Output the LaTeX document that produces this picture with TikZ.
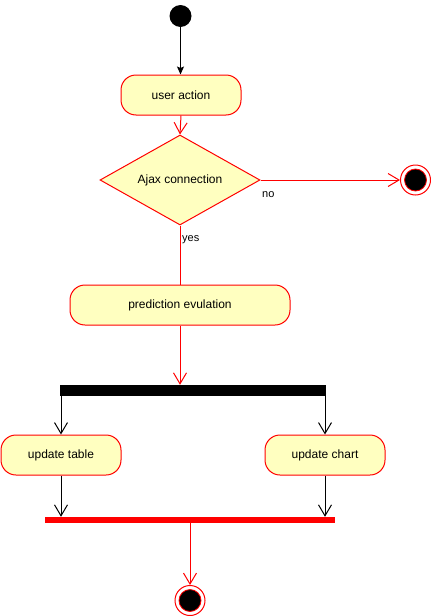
\documentclass[tikz,border=0pt]{standalone}
\usepackage{fontspec}
\setmainfont{Liberation Sans}
\usetikzlibrary{shapes.geometric,arrows.meta}
\definecolor{actfill}{HTML}{FFFFC0}
\definecolor{actred}{HTML}{FF0000}
\begin{document}
\begin{tikzpicture}[x=1pt,y=-1pt,
  every node/.style={font=\fontsize{12pt}{14pt}\selectfont, inner sep=0pt},
  act/.style={draw=actred, fill=actfill, rounded corners=15pt, line width=1pt},
  dec/.style={draw=actred, fill=actfill, diamond, aspect=1.78, line width=1pt, minimum width=160pt, minimum height=90pt},
  startnode/.style={circle, fill=black, minimum size=22pt},
  endouter/.style={circle, draw=actred, fill=white, line width=1pt, minimum size=30pt},
  endinner/.style={circle, draw=actred, fill=black, line width=0.8pt, minimum size=22pt},
  redflow/.style={draw=actred, line width=1pt, -{Straight Barb[length=11pt,width=13pt,line width=1pt]}},
  blackflow/.style={draw=black, line width=1pt, -{Straight Barb[length=11pt,width=13pt,line width=1pt]}},
  lbl/.style={font=\fontsize{11pt}{13pt}\selectfont}
]
\useasboundingbox (0,0) rectangle (431,616);
\fill[white] (0,0) rectangle (431,616);

\node[startnode] (start) at (180.5,16) {};
\node[act, minimum width=120pt, minimum height=40pt] (ua) at (181,95) {user action};
\node[dec] (ajax) at (180,180) {Ajax connection};
\node[endouter] (endA) at (415.5,180) {};
\node[endinner] at (endA) {};
\node[act, minimum width=220pt, minimum height=40pt] (pred) at (180,305) {prediction evulation};
\node[fill=black, minimum width=266pt, minimum height=11pt] (fork) at (193,390.5) {};
\node[act, minimum width=120pt, minimum height=40pt] (ut) at (61,455) {update table};
\node[act, minimum width=120pt, minimum height=40pt] (uc) at (325,455) {update chart};
\node[fill=actred, minimum width=290pt, minimum height=6pt] (join) at (190,520) {};
\node[endouter] (endB) at (190,600.5) {};
\node[endinner] at (endB) {};

\draw[line width=1pt, -{Stealth[length=8pt,width=7pt,inset=1.5pt]}] (start) -- (start |- ua.north);
\draw[redflow] (ua.south) -- (ajax.north);
\draw[redflow] (ajax.east) -- (endA.west);
\node[lbl, anchor=west] (no) at (262,195) {no};
\draw[draw=actred, line width=1pt] (ajax.south) -- (pred.north);
\node[lbl, anchor=west] (yes) at (182,240) {yes};
\draw[redflow] (pred.south) -- (pred.south |- fork.north);
\draw[blackflow] (ut.north |- fork.south) -- (ut.north);
\draw[blackflow] (uc.north |- fork.south) -- (uc.north);
\draw[blackflow] (ut.south) -- (ut.south |- join.north);
\draw[blackflow] (uc.south) -- (uc.south |- join.north);
\draw[redflow] ([yshift=2pt]join.south) -- (endB.north);
\end{tikzpicture}
\end{document}
